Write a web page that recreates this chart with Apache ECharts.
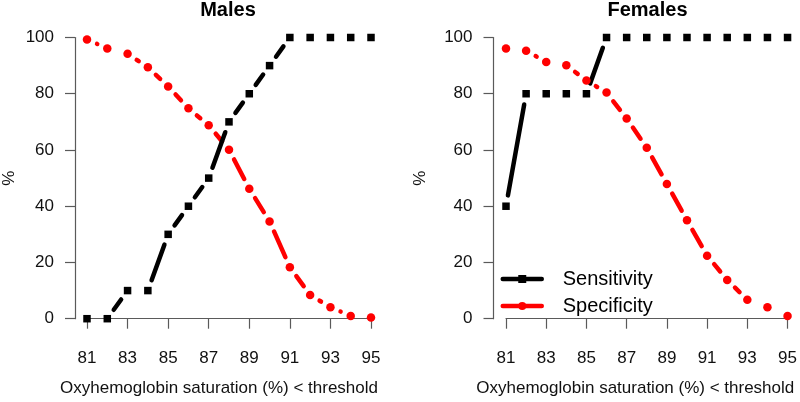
<!DOCTYPE html>
<html>
<head>
<meta charset="utf-8">
<script src="https://cdn.jsdelivr.net/npm/echarts@6/dist/echarts.min.js"></script>
<style>
html,body{margin:0;padding:0;background:#fff;}
#chart{width:800px;height:402px;}
</style>
</head>
<body>
<div id="chart"></div>
<script>
const thresholds = [81, 82, 83, 84, 85, 86, 87, 88, 89, 90, 91, 92, 93, 94, 95];
const malesSensitivity = [0, 0, 10, 10, 30, 40, 50, 70, 80, 90, 100, 100, 100, 100, 100];
const malesSpecificity = [99.3, 96.1, 94.2, 89.4, 82.6, 74.8, 68.8, 60.1, 46.2, 34.6, 18.3, 8.4, 4.1, 1.0, 0.4];
const femalesSensitivity = [40, 80, 80, 80, 80, 100, 100, 100, 100, 100, 100, 100, 100, 100, 100];
const femalesSpecificity = [96.1, 95.3, 91.3, 90.1, 84.7, 80.4, 71.2, 60.8, 47.9, 35.0, 22.4, 13.8, 6.7, 4.1, 1.0];
const panelTitles = ['Males', 'Females'];
const xTitle = 'Oxyhemoglobin saturation (%) < threshold';
const yTitle = '%';
const seriesNames = ['Sensitivity', 'Specificity'];

const FONT = '"Liberation Sans", Arial, Helvetica, sans-serif';
const GAP = 11;
const LW = 4.5;
const AXIS_COLOR = '#5a5a5a';

function pts(vals) { return thresholds.map((x, i) => [x, vals[i]]); }
function segs(vals) {
  const out = [];
  for (let i = 0; i < thresholds.length - 1; i++) {
    out.push([thresholds[i], vals[i], thresholds[i + 1], vals[i + 1]]);
  }
  return out;
}
function gappedLine(name, vals, color, idx) {
  return {
    type: 'custom', name: name, xAxisIndex: idx, yAxisIndex: idx,
    coordinateSystem: 'cartesian2d', clip: false, silent: true,
    encode: { x: [0, 2], y: [1, 3] },
    data: segs(vals),
    renderItem: function (params, api) {
      const p1 = api.coord([api.value(0), api.value(1)]);
      const p2 = api.coord([api.value(2), api.value(3)]);
      const dx = p2[0] - p1[0], dy = p2[1] - p1[1];
      const d = Math.sqrt(dx * dx + dy * dy);
      if (d <= 2 * GAP) return { type: 'group', children: [] };
      const ux = dx / d, uy = dy / d;
      return {
        type: 'line',
        shape: { x1: p1[0] + ux * GAP, y1: p1[1] + uy * GAP, x2: p2[0] - ux * GAP, y2: p2[1] - uy * GAP },
        style: { stroke: color, lineWidth: LW, lineCap: 'round' }
      };
    }
  };
}
function pointSeries(name, vals, color, symbol, size, idx) {
  return {
    type: 'line', name: name, xAxisIndex: idx, yAxisIndex: idx,
    data: pts(vals), symbol: symbol, symbolSize: size, showSymbol: true,
    clip: false, silent: true, animation: false,
    lineStyle: { opacity: 0, width: LW, color: color },
    itemStyle: { color: color, opacity: 1 }
  };
}

const grids = [
  { left: 87, top: 37.5, width: 284, height: 283.5 },
  { left: 506, top: 37.5, width: 283.3, height: 283.5 }
];
const xNamePad = [20, 23];
const yNameGap = [57, 65];

const xAxes = grids.map((g, i) => ({
  type: 'value', gridIndex: i, min: 81, max: 95, interval: 2, offset: 11.3,
  axisLine: { show: true, lineStyle: { color: AXIS_COLOR, width: 1.2 } },
  axisTick: { show: true, length: 10, lineStyle: { color: AXIS_COLOR, width: 1.2 } },
  axisLabel: { fontSize: 17, color: '#111', fontFamily: FONT, margin: 20 },
  splitLine: { show: false },
  name: xTitle, nameLocation: 'middle', nameGap: 50,
  nameTextStyle: { fontSize: 17, color: '#111', fontFamily: FONT, padding: [0, xNamePad[i], 0, 0] }
}));
const yAxes = grids.map((g, i) => ({
  type: 'value', gridIndex: i, min: 0, max: 100, interval: 20, offset: i === 0 ? 12 : 12.5,
  axisLine: { show: true, lineStyle: { color: AXIS_COLOR, width: 1.2 } },
  axisTick: { show: true, length: 10, lineStyle: { color: AXIS_COLOR, width: 1.2 } },
  axisLabel: { fontSize: 17, color: '#111', fontFamily: FONT, margin: 21 },
  splitLine: { show: false },
  name: yTitle, nameLocation: 'middle', nameGap: yNameGap[i], nameRotate: 90,
  nameTextStyle: { fontSize: 17, color: '#111', fontFamily: FONT }
}));

const option = {
  animation: false,
  backgroundColor: '#ffffff',
  title: [
    { text: panelTitles[0], left: 228, top: 0, textAlign: 'center', padding: 0,
      textStyle: { fontSize: 20, fontWeight: 'bold', color: '#000', fontFamily: FONT } },
    { text: panelTitles[1], left: 647.5, top: 0, textAlign: 'center', padding: 0,
      textStyle: { fontSize: 20, fontWeight: 'bold', color: '#000', fontFamily: FONT } }
  ],
  grid: grids,
  xAxis: xAxes,
  yAxis: yAxes,
  legend: {
    orient: 'vertical', left: 500.5, top: 269, padding: 0,
    itemWidth: 39, itemHeight: 10, itemGap: 7,
    selectedMode: false,
    textStyle: { fontSize: 20, color: '#000', fontFamily: FONT, padding: [0, 0, 0, 16] },
    data: [
      { name: seriesNames[0], lineStyle: { opacity: 1, width: LW, color: '#000', cap: 'round' }, itemStyle: { color: '#000' } },
      { name: seriesNames[1], lineStyle: { opacity: 1, width: LW, color: '#ff0000', cap: 'round' }, itemStyle: { color: '#ff0000' } }
    ]
  },
  series: [
    pointSeries(seriesNames[0], malesSensitivity, '#000', 'rect', 7.5, 0),
    pointSeries(seriesNames[1], malesSpecificity, '#ff0000', 'circle', 8.5, 0),
    gappedLine('_m_spec', malesSpecificity, '#ff0000', 0),
    gappedLine('_m_sens', malesSensitivity, '#000', 0),
    pointSeries(seriesNames[0], femalesSensitivity, '#000', 'rect', 7.5, 1),
    pointSeries(seriesNames[1], femalesSpecificity, '#ff0000', 'circle', 8.5, 1),
    gappedLine('_f_spec', femalesSpecificity, '#ff0000', 1),
    gappedLine('_f_sens', femalesSensitivity, '#000', 1)
  ]
};
const chart = echarts.init(document.getElementById('chart'), null, { renderer: 'canvas' });
chart.setOption(option);
</script>
</body>
</html>
